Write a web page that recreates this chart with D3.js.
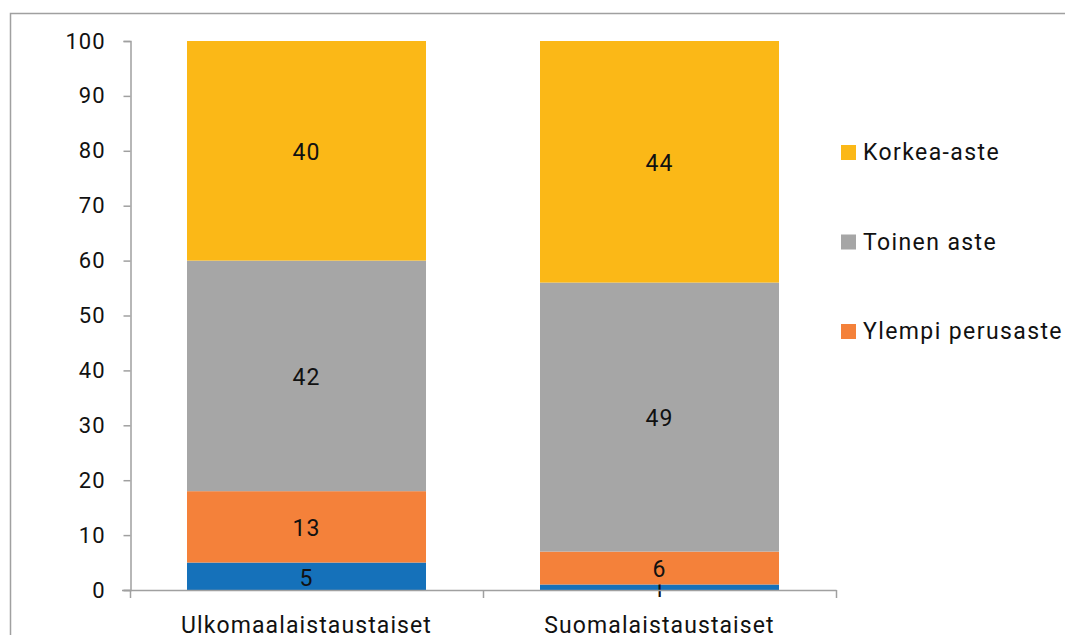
<!DOCTYPE html>
<html>
<head>
<meta charset="utf-8">
<script src="https://cdn.jsdelivr.net/npm/d3@7"></script>
<style>
  body { margin: 0; background: #fff; }
  text { font-family: Roboto, "Liberation Sans", sans-serif; fill: #111; }
</style>
</head>
<body>
<div id="chart"></div>
<script>
// Kategoriat ja sarjat
var categories = ["Ulkomaalaistaustaiset", "Suomalaistaustaiset"];
var seriesNames = ["Alempi", "Ylempi perusaste", "Toinen aste", "Korkea-aste"];
var alempi = [5, 1];
var ylempi = [13, 6];
var toinen = [42, 49];
var korkea = [40, 44];
var yTicks = [0, 10, 20, 30, 40, 50, 60, 70, 80, 90, 100];
var legendItems = ["Korkea-aste", "Toinen aste", "Ylempi perusaste"];

var colors = {
	"Alempi": "#1571ba",
	"Ylempi perusaste": "#f4813a",
	"Toinen aste": "#a6a6a6",
	"Korkea-aste": "#fbb817"
};

var width = 1065, height = 635;
var svg = d3.select("#chart").append("svg")
	.attr("width", width)
	.attr("height", height);

// Kehys
svg.append("path")
	.attr("d", "M10.5," + height + " V13.5 H" + width)
	.attr("fill", "none")
	.attr("stroke", "#a0a0a0")
	.attr("stroke-width", 1.5);

// Skaalat
var x = d3.scaleBand()
	.domain(categories)
	.range([130, 836])
	.paddingInner(0.323)
	.paddingOuter(0.1615);

var y = d3.scaleLinear()
	.domain([0, 100])
	.range([590, 41]);

// Pinotut arvot
var rows = categories.map(function (c, i) {
	return {
		category: c,
		"Alempi": alempi[i],
		"Ylempi perusaste": ylempi[i],
		"Toinen aste": toinen[i],
		"Korkea-aste": korkea[i]
	};
});
var stacked = d3.stack().keys(seriesNames)(rows);

var layers = svg.selectAll(".layer")
	.data(stacked)
	.enter()
	.append("g")
	.attr("class", "layer")
	.attr("fill", function (d) { return colors[d.key]; });

layers.selectAll("rect")
	.data(function (d) { return d; })
	.enter()
	.append("rect")
	.attr("x", function (d) { return x(d.data.category); })
	.attr("width", x.bandwidth())
	.attr("y", function (d) { return y(d[1]); })
	.attr("height", function (d) { return y(d[0]) - y(d[1]); });

// Arvotekstit
layers.selectAll(".val")
	.data(function (d) { return d; })
	.enter()
	.append("text")
	.attr("class", "val")
	.attr("x", function (d) { return x(d.data.category) + x.bandwidth() / 2; })
	.attr("y", function (d) { return (y(d[0]) + y(d[1])) / 2 + 1; })
	.attr("dy", "0.36em")
	.attr("text-anchor", "middle")
	.style("font-size", "23px")
	.style("letter-spacing", "1px")
	.text(function (d) { return d[1] - d[0]; });

// Y-akseli
var yAxis = svg.append("g")
	.attr("transform", "translate(130.5,0)")
	.call(d3.axisLeft(y).tickValues(yTicks).tickSize(7).tickPadding(18));
yAxis.select(".domain").attr("stroke", "#a0a0a0").attr("stroke-width", 1.5);
yAxis.selectAll(".tick line").attr("stroke", "#a0a0a0").attr("stroke-width", 1.5);
yAxis.selectAll(".tick text")
	.style("font-size", "22px")
	.style("letter-spacing", "1px")
	.style("font-family", "Roboto, sans-serif")
	.attr("fill", "#111");

// X-akseli
svg.append("line")
	.attr("x1", 122).attr("x2", 836.5)
	.attr("y1", 590.5).attr("y2", 590.5)
	.attr("stroke", "#a0a0a0").attr("stroke-width", 1.5);

var boundaries = [x.range()[0]].concat(categories.map(function (c) {
	return x(c) + x.bandwidth() + x.step() * x.paddingInner() / 2;
}));
svg.selectAll(".xtick")
	.data(boundaries)
	.enter()
	.append("line")
	.attr("class", "xtick")
	.attr("x1", function (d) { return Math.round(d) + 0.5; })
	.attr("x2", function (d) { return Math.round(d) + 0.5; })
	.attr("y1", 590)
	.attr("y2", 598)
	.attr("stroke", "#a0a0a0").attr("stroke-width", 1.5);

svg.selectAll(".xlabel")
	.data(categories)
	.enter()
	.append("text")
	.attr("class", "xlabel")
	.attr("x", function (d) { return x(d) + x.bandwidth() / 2; })
	.attr("y", 633)
	.attr("text-anchor", "middle")
	.style("font-size", "23px")
	.style("letter-spacing", "1.1px")
	.text(function (d) { return d; });

// Selite
var legend = svg.selectAll(".legend")
	.data(legendItems)
	.enter()
	.append("g")
	.attr("class", "legend")
	.attr("transform", function (d, i) { return "translate(841," + (152 + i * 89.5) + ")"; });

legend.append("rect")
	.attr("x", 0).attr("y", -7)
	.attr("width", 15).attr("height", 15)
	.attr("fill", function (d) { return colors[d]; });

legend.append("text")
	.attr("x", 22)
	.attr("dy", "0.36em")
	.style("font-size", "23px")
	.style("letter-spacing", "1.4px")
	.text(function (d) { return d; });
</script>
</body>
</html>
